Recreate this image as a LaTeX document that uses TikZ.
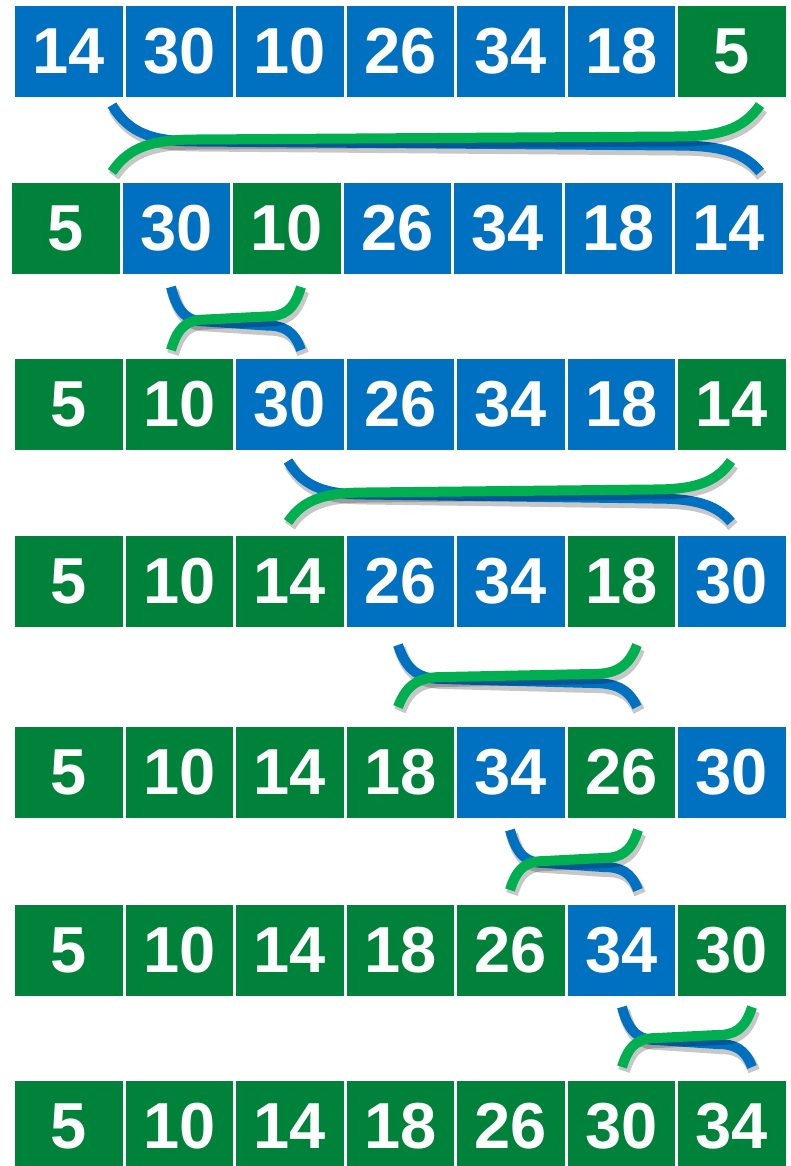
\documentclass[tikz,border=0pt]{standalone}
\usepackage{fontspec}
\setmainfont{Liberation Sans}
\usepackage{tikz}
\usetikzlibrary{positioning, calc}
\usepackage{xcolor}
\definecolor{cellblue}{RGB}{0,112,192}
\definecolor{cellgreen}{RGB}{0,130,59}
\definecolor{swapgreen}{RGB}{0,176,80}

% swap curves: left x, right x, top y, bottom y, bend width
\newcommand{\swapcurve}[5]{%
  \pgfmathsetmacro{\ym}{(#3+#4)/2+2}
  \draw[swapshadow] (#1,#3) .. controls ({#1+0.2*#5},{#3+0.8*(\ym+1-#3)}) and ({#1+0.5*#5},{\ym+1}) .. ({#1+#5},{\ym+1})
    -- ({#2-#5},{\ym+5}) .. controls ({#2-0.5*#5},{\ym+5}) and ({#2-0.2*#5},{#4-0.8*(#4-\ym-5)}) .. (#2,#4);
  \draw[swapline=cellblue] (#1,#3) .. controls ({#1+0.2*#5},{#3+0.8*(\ym+1-#3)}) and ({#1+0.5*#5},{\ym+1}) .. ({#1+#5},{\ym+1})
    -- ({#2-#5},{\ym+5}) .. controls ({#2-0.5*#5},{\ym+5}) and ({#2-0.2*#5},{#4-0.8*(#4-\ym-5)}) .. (#2,#4);
  \draw[swapshadow] (#1,#4) .. controls ({#1+0.2*#5},{#4-0.8*(#4-\ym+1)}) and ({#1+0.5*#5},{\ym-1}) .. ({#1+#5},{\ym-1})
    -- ({#2-#5},{\ym-4}) .. controls ({#2-0.5*#5},{\ym-4}) and ({#2-0.2*#5},{#3+0.8*(\ym-4-#3)}) .. (#2,#3);
  \draw[swapline=swapgreen] (#1,#4) .. controls ({#1+0.2*#5},{#4-0.8*(#4-\ym+1)}) and ({#1+0.5*#5},{\ym-1}) .. ({#1+#5},{\ym-1})
    -- ({#2-#5},{\ym-4}) .. controls ({#2-0.5*#5},{\ym-4}) and ({#2-0.2*#5},{#3+0.8*(\ym-4-#3)}) .. (#2,#3);
}

\begin{document}
\begin{tikzpicture}[
    x=1pt, y=-1pt,
    cell/.style={rectangle, fill=#1, minimum width=107.5pt, minimum height=91pt, inner sep=0pt, outer sep=0pt,
      text=white, font=\bfseries\fontsize{65}{65}\selectfont},
    swapline/.style={draw=#1, line width=10pt},
    swapshadow/.style={draw=black, draw opacity=0.22, line width=12pt, shift={(2,4)}}
]
\useasboundingbox (0,0) rectangle (790,1166);

% array states, one row per step
\foreach \v/\c [count=\i] in {14/cellblue,30/cellblue,10/cellblue,26/cellblue,34/cellblue,18/cellblue,5/cellgreen}
  \node[cell=\c] (r1c\i) at ({68.75+(\i-1)*110.5},51.5) {\v};
\foreach \v/\c [count=\i] in {5/cellgreen,30/cellblue,10/cellgreen,26/cellblue,34/cellblue,18/cellblue,14/cellblue}
  \node[cell=\c] (r2c\i) at ({65.75+(\i-1)*110.5},228.5) {\v};
\foreach \v/\c [count=\i] in {5/cellgreen,10/cellgreen,30/cellblue,26/cellblue,34/cellblue,18/cellblue,14/cellgreen}
  \node[cell=\c] (r3c\i) at ({68.75+(\i-1)*110.5},404.5) {\v};
\foreach \v/\c [count=\i] in {5/cellgreen,10/cellgreen,14/cellgreen,26/cellblue,34/cellblue,18/cellgreen,30/cellblue}
  \node[cell=\c] (r4c\i) at ({68.75+(\i-1)*110.5},581.5) {\v};
\foreach \v/\c [count=\i] in {5/cellgreen,10/cellgreen,14/cellgreen,18/cellgreen,34/cellblue,26/cellgreen,30/cellblue}
  \node[cell=\c] (r5c\i) at ({68.75+(\i-1)*110.5},772.5) {\v};
\foreach \v/\c [count=\i] in {5/cellgreen,10/cellgreen,14/cellgreen,18/cellgreen,26/cellgreen,34/cellblue,30/cellgreen}
  \node[cell=\c] (r6c\i) at ({68.75+(\i-1)*110.5},950.5) {\v};
\foreach \v/\c [count=\i] in {5,10,14,18,26,30,34}
  \node[cell=cellgreen] (r7c\i) at ({68.75+(\i-1)*110.5},1126.5) {\v};

% swaps between rows
\swapcurve{112}{760}{105}{172}{85}
\swapcurve{171}{301}{287}{350}{35}
\swapcurve{288}{731}{461}{522}{78}
\swapcurve{398}{637}{645}{707}{45}
\swapcurve{510}{638}{830}{890}{35}
\swapcurve{622}{752}{1007}{1067}{35}

\end{tikzpicture}
\end{document}
